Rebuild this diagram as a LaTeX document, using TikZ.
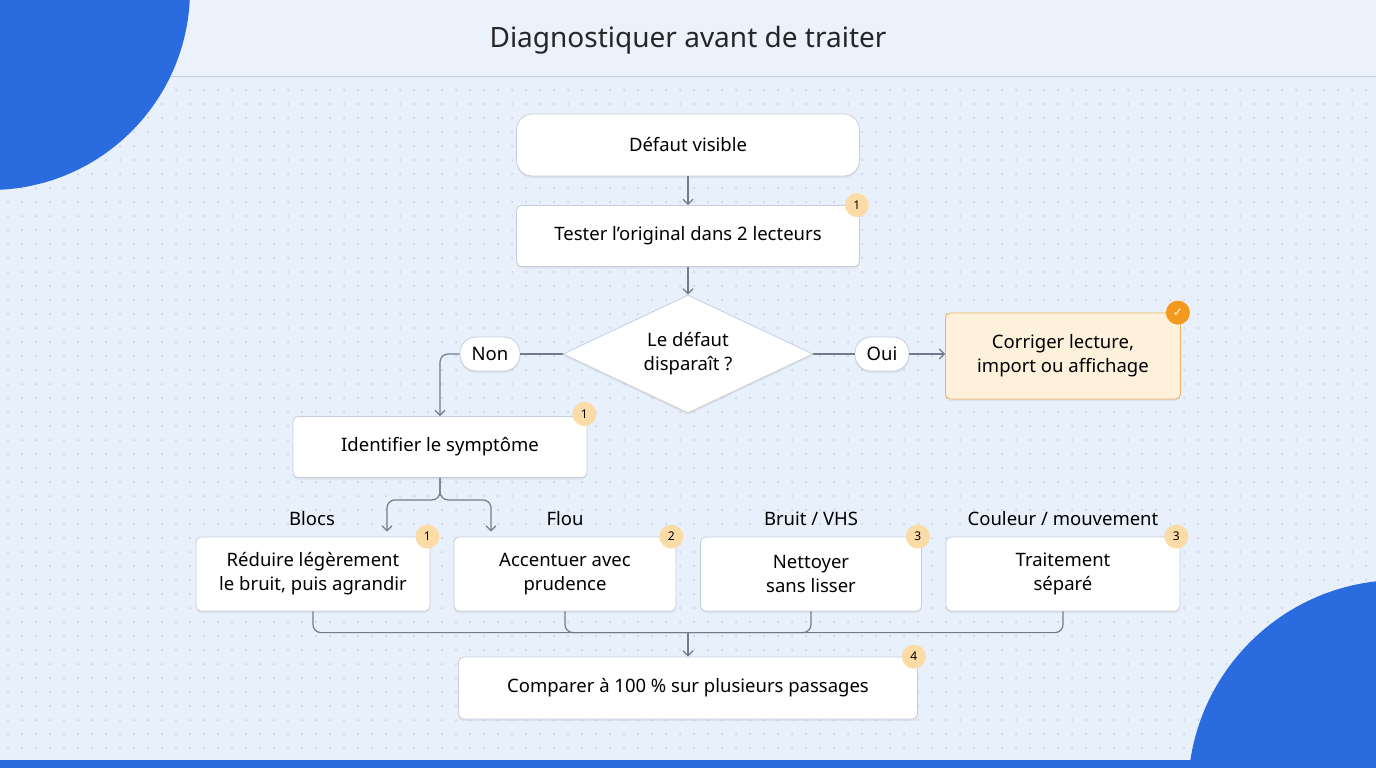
\documentclass[tikz,border=0pt]{standalone}
\usepackage{fontspec}
\setmainfont{Noto Sans}
\usetikzlibrary{
  arrows.meta,
  calc,
  positioning,
  shadows,
  shapes.geometric,
}
\definecolor{bgblue}{HTML}{E8F0FB}
\definecolor{headblue}{HTML}{EBF2FC}
\definecolor{deepblue}{HTML}{2B6BE0}
\definecolor{linegray}{HTML}{6F7C8E}
\definecolor{boxline}{HTML}{C5CEDB}
\definecolor{peach}{HTML}{FCDCA6}
\definecolor{okfill}{HTML}{FDF1DC}
\definecolor{okline}{HTML}{F0B45A}
\definecolor{okbadge}{HTML}{F2991E}
\tikzstyle{box} = [
  rectangle, rounded corners=5pt, draw=boxline, fill=white,
  line width=0.8pt, align=center, font=\fontsize{18.5}{24}\selectfont,
  drop shadow={opacity=0.12, shadow xshift=0pt, shadow yshift=-2pt},
]
\tikzstyle{pill} = [box, rounded corners=16pt]
\tikzstyle{badge} = [circle, fill=peach, inner sep=0pt, minimum size=24pt,
  font=\fontsize{12}{12}\selectfont]
\tikzstyle{link} = [-{Straight Barb[length=5pt,width=10pt]}, line width=1.2pt,
  linegray, rounded corners=8pt]
\tikzstyle{tag} = [font=\fontsize{18.5}{24}\selectfont]

\begin{document}
\begin{tikzpicture}[x=1pt, y=-1pt]
  % background
  \useasboundingbox (0,0) rectangle (1376,768);
  \clip (0,0) rectangle (1376,768);
  \fill[bgblue] (0,0) rectangle (1376,768);
  \fill[headblue] (0,0) rectangle (1376,76);
  \draw[boxline, line width=0.8pt] (0,76) -- (1376,76);
  \foreach \i in {0,...,97} {
    \foreach \j in {0,...,48} {
      \fill[boxline] (8+14*\i, 90+14*\j) circle (1pt);
    }
  }
  \fill[deepblue] (-10,-10) circle (200pt);
  \fill[deepblue] (1400,792) circle (212pt);
  \fill[deepblue] (0,760) rectangle (1376,768);
  \node[font=\fontsize{28}{32}\selectfont, text=black!85] (title) at (688,40) {Diagnostiquer avant de traiter};

  % main column
  \node[pill, minimum width=343pt, minimum height=62pt] (start) at (688,145) {Défaut visible};
  \node[box, minimum width=343pt, minimum height=61pt] (test) at (688,236) {Tester l'original dans 2 lecteurs};
  \node[diamond, draw=boxline, fill=white, line width=0.8pt, aspect=2.1, minimum width=250pt,
    minimum height=118pt, inner sep=0pt, align=center, font=\fontsize{18.5}{24}\selectfont,
    drop shadow={opacity=0.12, shadow xshift=0pt, shadow yshift=-2pt}]
    (gone) at (688,354) {Le défaut\\disparaît ?};
  \node[pill, minimum width=60pt, minimum height=34pt, inner sep=2pt] (no) at (490,354) {Non};
  \node[pill, minimum width=54pt, minimum height=34pt, inner sep=2pt] (yes) at (882,354) {Oui};
  \node[box, fill=okfill, draw=okline, minimum width=235pt, minimum height=86pt] (fix) at (1063,356)
    {Corriger lecture,\\import ou affichage};
  \node[box, minimum width=294pt, minimum height=61pt] (symptom) at (440,447) {Identifier le symptôme};

  % treatments
  \node[box, minimum width=234pt, minimum height=74pt] (blocs) at (313,574) {Réduire légèrement\\le bruit, puis agrandir};
  \node[box, minimum width=222pt, minimum height=74pt] (flou) at (565,574) {Accentuer avec\\prudence};
  \node[box, minimum width=221pt, minimum height=74pt] (bruit) at (811,574) {Nettoyer\\sans lisser};
  \node[box, minimum width=234pt, minimum height=74pt] (color) at (1063,574) {Traitement\\séparé};
  \node[box, minimum width=459pt, minimum height=62pt] (compare) at (688,688) {Comparer à 100 \% sur plusieurs passages};

  \node[tag] (tblocs) at (312,519) {Blocs};
  \node[tag] (tflou) at (565,519) {Flou};
  \node[tag] (tbruit) at (811,519) {Bruit / VHS};
  \node[tag] (tcolor) at (1063,519) {Couleur / mouvement};

  % badges
  \node[badge] (b1) at (test.north east) [xshift=-3pt] {1};
  \node[badge] (b2) at (symptom.north east) [xshift=-3pt,yshift=2pt] {1};
  \node[badge] (b3) at (blocs.north east) [xshift=-3pt] {1};
  \node[badge] (b4) at (flou.north east) [xshift=-5pt] {2};
  \node[badge] (b5) at (bruit.north east) [xshift=-4pt] {3};
  \node[badge] (b6) at (color.north east) [xshift=-4pt] {3};
  \node[badge] (b7) at (compare.north east) [xshift=-4pt] {4};
  \node[badge, fill=okbadge, text=white] (b8) at (fix.north east) [xshift=-3pt] {\fontspec{DejaVu Sans}✓};

  % connectors
  \draw[link] (start) -- (test);
  \draw[link] (test) -- (gone);
  \draw[linegray, line width=1.2pt] (gone.west) -- (no.east);
  \draw[link] (no.west) -| (symptom.north);
  \draw[linegray, line width=1.2pt] (gone.east) -- (yes.west);
  \draw[link] (yes.east) -- (yes.east -| fix.west);
  \coordinate (fork) at ($(symptom.south)+(0,22)$);
  \draw[link] (symptom.south) -- (fork) -| ($(blocs.north)+(74,-5)$);
  \draw[link] (symptom.south) -- (fork) -| ($(flou.north)+(-74,-5)$);
  \coordinate (join) at ($(compare.north)+(0,-24)$);
  \foreach \b in {blocs, flou, bruit, color} {
    \draw[linegray, line width=1.2pt, rounded corners=8pt] (\b.south) |- (join);
  }
  \draw[link] (join) -- (compare.north);
\end{tikzpicture}
\end{document}
